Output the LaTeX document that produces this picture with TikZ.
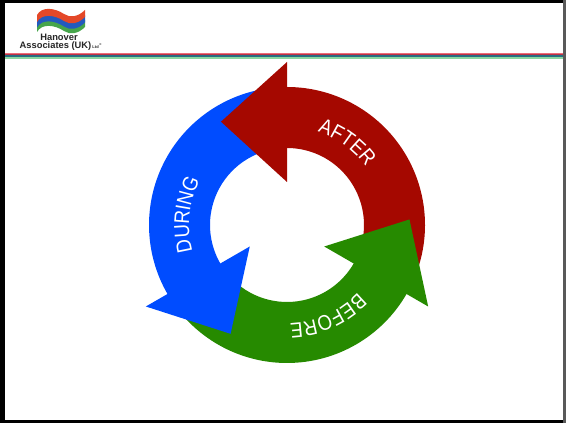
\documentclass[tikz,border=0pt]{standalone}
\usepackage{fontspec}
\setsansfont{Liberation Sans}
\newfontfamily\ringfont[FakeStretch=0.87]{Liberation Sans}
\usetikzlibrary{decorations.text}
\definecolor{afterred}{RGB}{165,8,0}
\definecolor{duringblue}{RGB}{0,76,255}
\definecolor{beforegreen}{RGB}{38,138,0}
\definecolor{stripepink}{RGB}{235,110,120}
\definecolor{stripered}{RGB}{190,50,70}
\definecolor{stripeteal}{RGB}{40,110,130}
\definecolor{stripegreen}{RGB}{140,215,160}
\definecolor{flagred}{RGB}{228,72,40}
\definecolor{flagblue}{RGB}{35,90,190}
\definecolor{flaggreen}{RGB}{70,165,75}
\tikzset{
	logotext/.style={inner sep=0pt, text=black!85},
	ringlabel/.style={
		postaction={decorate},
		decoration={text along path, text align=center,
			text color=white,
			text={|\ringfont\fontsize{16}{16}\selectfont|#1}}
	}
}
\begin{document}
\begin{tikzpicture}[x=0.75pt,y=0.75pt]
		\useasboundingbox (0,0) rectangle (566,423);
		
		% frame
		\fill[black] (0,0) rectangle (566,423);
		\fill[black!65] (563.3,0) rectangle (566,423);
		\fill[white] (4.5,3.3) rectangle (563.3,420);
		
		% stripes under the logo
		\fill[stripepink] (4.5,369) rectangle (563.3,370);
		\fill[stripered] (4.5,367.5) rectangle (563.3,369);
		\fill[stripeteal] (4.5,366) rectangle (563.3,367.5);
		\fill[stripegreen] (4.5,364) rectangle (563.3,366);
		
		% logo
		\foreach \off/\col in {-10/flaggreen,-5.5/flagblue,0/flagred}{
			\fill[\col,yshift=\off*0.75pt] (37,408) .. controls (42,417) and (55,415) .. (64,409) .. controls (70,405) and (78,406) .. (85,413) -- (85,406) .. controls (78,399) and (70,398) .. (64,402) .. controls (55,408) and (42,410) .. (37,401) -- cycle;
		}
		\node[logotext, font=\sffamily\bfseries\fontsize{7}{8}\selectfont] (hanover) at (59,386) {Hanover};
		\node[logotext, font=\sffamily\bfseries\fontsize{7}{8}\selectfont] (associates) at (55.5,377) {Associates (UK)};
		\node[logotext, anchor=west, font=\sffamily\bfseries\fontsize{3}{3}\selectfont] (ltd) at (associates.east) {\,Ltd\,\textsuperscript{\textregistered}};
		
		% ring centre and radii
		\def\centerx{287}
		\def\centery{198}
		\def\rout{138}
		\def\rin{77}
		
		% tails first
		\foreach \ang/\col in {0/afterred,120/duringblue,-120/beforegreen}{
			\begin{scope}[shift={(\centerx,\centery)},rotate=\ang]
				\fill[\col] (92:\rout) arc (92:-17:\rout) -- (-10:\rin) arc (-10:92:\rin) -- cycle;
			\end{scope}
		}
		
		% then the heads
		\foreach \ang/\col in {0/afterred,120/duringblue,-120/beforegreen}{
			\begin{scope}[shift={(\centerx,\centery)},rotate=\ang]
				\fill[\col] (90:163) -- (122.6:122.6) -- (90:43) -- cycle;
			\end{scope}
		}
		
		% labels
		\path[ringlabel={AFTER}] (\centerx,\centery) ++(80:98) arc (80:28:98);
		\path[ringlabel={DURING}] (\centerx,\centery) ++(200:98) arc (200:148:98);
		\path[ringlabel={BEFORE}] (\centerx,\centery) ++(-40:98) arc (-40:-92:98);
	\end{tikzpicture}
\end{document}
